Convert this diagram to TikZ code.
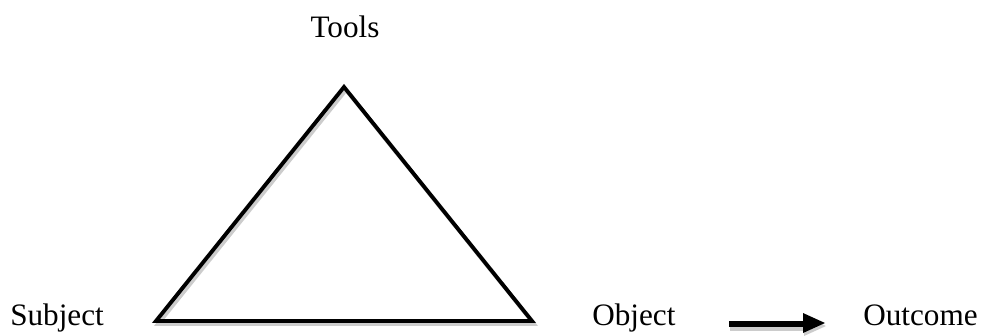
\documentclass[tikz,border=0pt]{standalone}
\usepackage{fontspec}
\setmainfont{Liberation Serif}
\begin{document}
\begin{tikzpicture}[x=0.75pt,y=-0.75pt,
  lbl/.style={inner sep=0pt,font=\fontsize{23.4}{28}\selectfont},
  edge/.style={line width=2.9pt,line join=miter,black},
  shade/.style={line width=2.9pt,line join=miter,black!20}]
\useasboundingbox (0,0) rectangle (983,336);
% labels
\node[lbl,anchor=base] (tools) at (345,37) {Tools};
\node[lbl,anchor=base west] (subject) at (10,325) {Subject};
\node[lbl,anchor=base west] (object) at (592,325) {Object};
\node[lbl,anchor=base west] (outcome) at (863,325) {Outcome};
% triangle corners
\coordinate (apex) at (344,87);
\coordinate (bl) at (156,321);
\coordinate (br) at (532,321);
% shadow
\draw[shade] ([shift={(2,3)}]apex) -- ([shift={(2,3)}]br) -- ([shift={(2,3)}]bl) -- cycle;
\draw[edge] (apex) -- (br) -- (bl) -- cycle;
% arrow from Object to Outcome
\coordinate (as) at (729,324);
\coordinate (ae) at (825,323);
\fill[black!20] (730,326) rectangle (804,330.5);
\fill[black!20] (804,316) -- (826,326) -- (804,336) -- cycle;
\fill[black] (as |- 0,320.5) rectangle (804,327);
\fill[black] (803,313) -- (ae) -- (803,333) -- cycle;
\end{tikzpicture}
\end{document}
